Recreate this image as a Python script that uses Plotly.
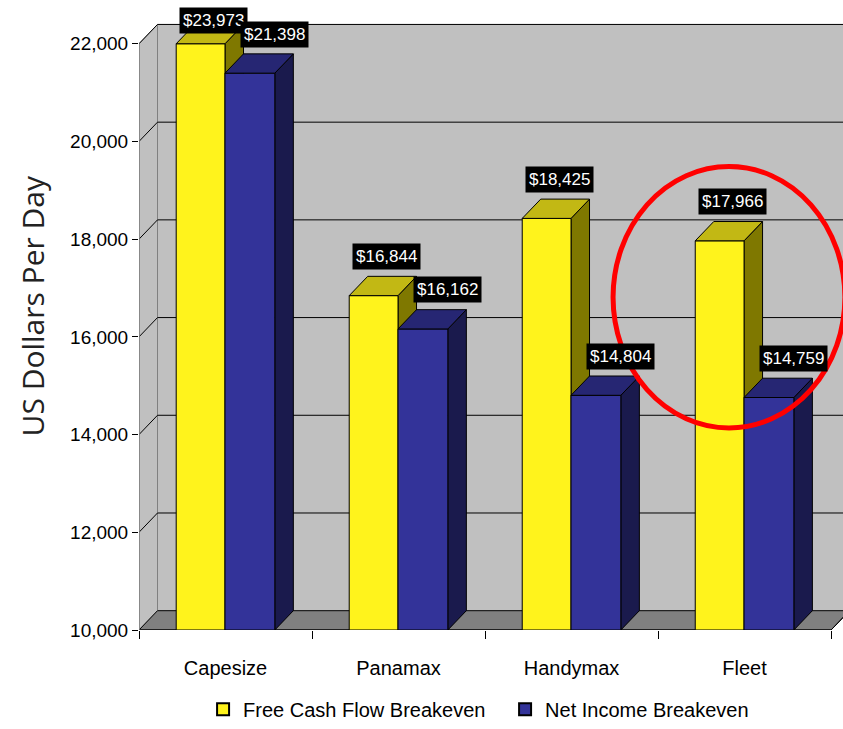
import plotly.graph_objects as go

categories = ["Capesize", "Panamax", "Handymax", "Fleet"]
free_cash_flow = [23973, 16844, 18425, 17966]
net_income = [21398, 16162, 14804, 14759]
y_ticks = [10000, 12000, 14000, 16000, 18000, 20000, 22000]
series_names = ["Free Cash Flow Breakeven", "Net Income Breakeven"]

# styling / geometry
Y_MIN, Y_MAX, Y_TOP = 10000, 22000, 22486
X_MAX = 4.069
DX = 0.107          # depth offset in category units
DY = 395            # depth offset in value units
LABEL_OFF = 405     # label distance above top face (value units)
SANS = "Liberation Sans, Arial"
WALL = "#C0C0C0"
FLOOR = "#808080"
yellow = dict(front="#FFF31C", top="#C2B814", side="#7F7800")
blue = dict(front="#333399", top="#262673", side="#1A1A4D")

fig = go.Figure()


def poly(xs, ys, fill, line="black", width=1):
    fig.add_trace(go.Scatter(
        x=xs + [xs[0]], y=ys + [ys[0]], mode="lines", fill="toself",
        fillcolor=fill, line=dict(color=line, width=width),
        hoverinfo="skip", showlegend=False))


def line(xs, ys, color="black", width=1):
    fig.add_trace(go.Scatter(x=xs, y=ys, mode="lines",
                             line=dict(color=color, width=width),
                             hoverinfo="skip", showlegend=False))


# back wall
poly([DX, X_MAX + 0.2, X_MAX + 0.2, DX],
     [Y_MIN + DY, Y_MIN + DY, Y_MAX + DY, Y_MAX + DY], WALL, line=WALL)
# side wall
poly([0, DX, DX, 0], [Y_MIN, Y_MIN + DY, Y_MAX + DY, Y_MAX], WALL, line="#808080")
# gridlines on walls
for t in y_ticks[1:]:
    line([0, DX, X_MAX + 0.2], [t, t + DY, t + DY])
# floor
poly([0, 4, 4 + DX, X_MAX + 0.2, X_MAX + 0.2, DX],
     [Y_MIN, Y_MIN, Y_MIN + DY, Y_MIN + DY, Y_MIN + DY, Y_MIN + DY], FLOOR)
line([0, 4, 4 + DX], [Y_MIN, Y_MIN, Y_MIN + DY])
line([0, 0], [Y_MIN, Y_MAX], color="#808080", width=1.5)


def bar3d(x0, x1, v, col):
    top = min(v, Y_MAX)
    # side
    poly([x1, x1 + DX, x1 + DX, x1], [Y_MIN, Y_MIN + DY, top + DY, top], col["side"])
    # front
    poly([x0, x1, x1, x0], [Y_MIN, Y_MIN, top, top], col["front"])
    # top
    poly([x0, x1, x1 + DX, x0 + DX], [top, top, top + DY, top + DY], col["top"])


offsets = [(0.215, 0.497), (0.497, 0.785)]
shifts = [0.023, 0.087]
annotations = []
for i, cat in enumerate(categories):
    for s, (vals, col) in enumerate([(free_cash_flow, yellow), (net_income, blue)]):
        x0, x1 = i + offsets[s][0], i + offsets[s][1]
        v = vals[i]
        bar3d(x0, x1, v, col)
        top = min(v, Y_MAX)
        ly = min(top + DY + LABEL_OFF, Y_TOP - 15)
        annotations.append(dict(
            x=(x0 + x1) / 2 + DX / 2 + shifts[s], y=ly, xref="x", yref="y",
            text=f"${v:,}", showarrow=False, bgcolor="black",
            font=dict(family=SANS, size=17, color="white"),
            borderpad=3, xanchor="center", yanchor="middle"))

# legend entries
for name, col in zip(series_names, [yellow, blue]):
    fig.add_trace(go.Scatter(
        x=[None], y=[None], mode="markers", name=name,
        marker=dict(symbol="square", size=13, color=col["front"],
                    line=dict(color="black", width=1))))

annotations.append(dict(
    x=-0.152, y=0.532, xref="paper", yref="paper", text="US Dollars Per Day",
    textangle=-90, showarrow=False, xanchor="center", yanchor="middle",
    font=dict(family="Open Sans", size=30, color="#222222")))

fig.add_shape(type="circle", xref="x", yref="y",
              x0=2.74, x1=4.08, y0=14135, y1=19487,
              line=dict(color="#FF0000", width=5), layer="above")

fig.update_layout(
    width=843, height=729,
    margin=dict(l=139, r=0, t=20, b=93),
    paper_bgcolor="white", plot_bgcolor="white",
    showlegend=True,
    legend=dict(orientation="h", x=0.52, xanchor="center", y=-0.13,
                yanchor="middle", font=dict(family=SANS, size=20, color="black"),
                itemsizing="constant", entrywidth=257, entrywidthmode="pixels"),
    annotations=annotations,
)
fig.update_xaxes(
    range=[0, X_MAX], showgrid=False, zeroline=False, showline=False,
    tickmode="array", tickvals=[0.5, 1.5, 2.5, 3.5], ticktext=categories,
    ticks="", ticklabelstandoff=24,
    tickfont=dict(family=SANS, size=20, color="black"),
    minor=dict(ticks="outside", tickmode="array", tickvals=[0, 1, 2, 3, 4],
               ticklen=8, tickcolor="black", tickwidth=1, showgrid=False),
)
fig.update_yaxes(
    range=[Y_MIN, Y_TOP], showgrid=False, zeroline=False, showline=False,
    tickmode="array", tickvals=y_ticks, tickformat=",",
    ticks="outside", ticklen=6, tickcolor="black",
    tickfont=dict(family=SANS, size=19, color="black"),
)

fig.write_html("out.html")
